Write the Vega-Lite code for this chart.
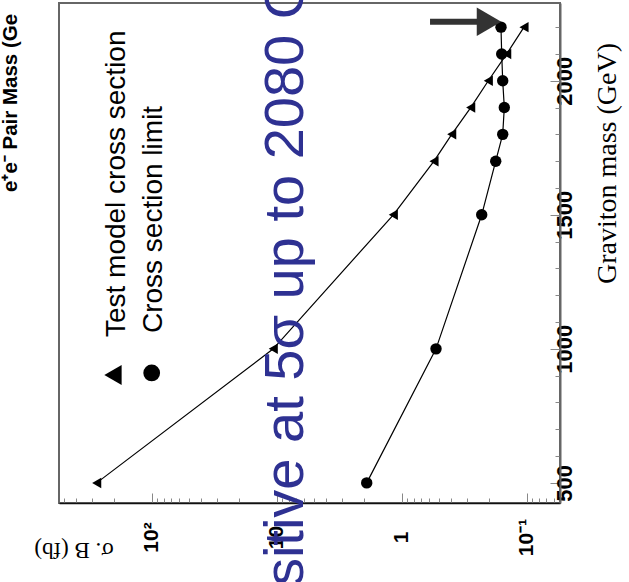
{
  "$schema": "https://vega.github.io/schema/vega-lite/v6.json",
  "width": 501,
  "height": 500,
  "autosize": {"type": "none"},
  "padding": {"left": 59, "top": 3, "right": 69, "bottom": 79},
  "background": "white",
  "config": {"view": {"stroke": "#666", "strokeWidth": 2}},
  "datasets": {
    "curves": [
      {"series": "model", "mass": 500, "sigma": 275.4},
      {"series": "model", "mass": 1000, "sigma": 10.65},
      {"series": "model", "mass": 1500, "sigma": 1.167},
      {"series": "model", "mass": 1700, "sigma": 0.5515},
      {"series": "model", "mass": 1800, "sigma": 0.398},
      {"series": "model", "mass": 1900, "sigma": 0.2806},
      {"series": "model", "mass": 2000, "sigma": 0.2028},
      {"series": "model", "mass": 2100, "sigma": 0.1445},
      {"series": "model", "mass": 2200, "sigma": 0.1051},
      {"series": "limit", "mass": 500, "sigma": 1.905},
      {"series": "limit", "mass": 1000, "sigma": 0.5316},
      {"series": "limit", "mass": 1500, "sigma": 0.2291},
      {"series": "limit", "mass": 1700, "sigma": 0.177},
      {"series": "limit", "mass": 1800, "sigma": 0.1556},
      {"series": "limit", "mass": 1900, "sigma": 0.1511},
      {"series": "limit", "mass": 2000, "sigma": 0.1556},
      {"series": "limit", "mass": 2100, "sigma": 0.1585},
      {"series": "limit", "mass": 2200, "sigma": 0.1606}
    ],
    "legendSymbols": [
      {"series": "model", "sigma": 204, "mass": 902},
      {"series": "limit", "sigma": 100, "mass": 910}
    ],
    "legendText": [
      {"label": "Test model cross section", "sigma": 163.6, "mass": 1044},
      {"label": "Cross section limit", "sigma": 82.7, "mass": 1059}
    ],
    "arrow": [
      {"sigma": 0.5935, "sigma2": 0.2278, "head": 0.2002, "mass": 2220}
    ],
    "cornerText": [
      {"label": "e⁺e⁻ Pair Mass (Ge", "sigma": 1206, "mass": 1585}
    ],
    "banner": [
      {"label": "sitive at 5σ up to 2080 G", "sigma": 6.16, "mass": 115}
    ]
  },
  "encoding": {
    "x": {
      "field": "sigma",
      "type": "quantitative",
      "scale": {"type": "log", "domain": [0.05416, 551.5], "reverse": true, "nice": false, "zero": false},
      "axis": {
        "orient": "bottom",
        "grid": false,
        "title": "σ. B (fb)",
        "titleFont": "Liberation Serif",
        "titleFontSize": 23,
        "titleFontWeight": "normal",
        "titleColor": "#000",
        "titleAngle": 180,
        "titleX": 14.5,
        "titleY": 46,
        "titleAlign": "center",
        "titleBaseline": "middle",
        "values": [0.06, 0.07, 0.08, 0.09, 0.1, 0.2, 0.3, 0.4, 0.5, 0.6, 0.7, 0.8, 0.9, 1, 2, 3, 4, 5, 6, 7, 8, 9, 10, 20, 30, 40, 50, 60, 70, 80, 90, 100, 200, 300, 400, 500],
        "labelExpr": "datum.value == 100 ? '10²' : datum.value == 10 ? '10' : datum.value == 1 ? '1' : datum.value == 0.1 ? '10⁻¹' : ''",
        "labelAngle": 270,
        "labelAlign": "center",
        "labelBaseline": "middle",
        "labelFont": "Liberation Sans",
        "labelFontSize": 21,
        "labelFontWeight": "bold",
        "labelColor": "#000",
        "labelPadding": 44,
        "labelOverlap": false,
        "labelFlush": false,
        "tickSize": {"condition": {"test": "indexof([0.1, 1, 10, 100], datum.value) >= 0", "value": -10}, "value": -5},
        "tickColor": "#888",
        "tickWidth": 1,
        "domainColor": "#111",
        "domainWidth": 1.5
      }
    },
    "y": {
      "field": "mass",
      "type": "quantitative",
      "scale": {"domain": [425, 2290], "nice": false, "zero": false},
      "axis": {
        "orient": "right",
        "grid": false,
        "title": "Graviton mass (GeV)",
        "titleFont": "Liberation Serif",
        "titleFontSize": 28,
        "titleFontWeight": "normal",
        "titleColor": "#000",
        "titleAngle": 270,
        "titleX": 47,
        "titleY": 160,
        "titleAlign": "center",
        "titleBaseline": "middle",
        "values": [500, 600, 700, 800, 900, 1000, 1100, 1200, 1300, 1400, 1500, 1600, 1700, 1800, 1900, 2000, 2100, 2200],
        "labelExpr": "datum.value % 500 == 0 ? format(datum.value, 'd') : ''",
        "labelAngle": 270,
        "labelAlign": "center",
        "labelBaseline": "top",
        "labelFont": "Liberation Sans",
        "labelFontSize": 22,
        "labelFontWeight": "bold",
        "labelColor": "#000",
        "labelPadding": 4,
        "labelOverlap": false,
        "labelFlush": false,
        "tickSize": {"condition": {"test": "datum.value % 500 == 0", "value": -10}, "value": -5},
        "tickColor": "#888",
        "tickWidth": 1,
        "domainColor": "#666",
        "domainWidth": 2
      }
    }
  },
  "layer": [
    {
      "data": {"name": "curves"},
      "mark": {"type": "line", "color": "#000", "strokeWidth": 1.2},
      "encoding": {
        "detail": {"field": "series", "type": "nominal"},
        "order": {"field": "mass", "type": "quantitative"}
      }
    },
    {
      "data": {"name": "curves"},
      "transform": [{"filter": "datum.series == 'model'"}],
      "mark": {"type": "point", "shape": "triangle-left", "filled": true, "color": "#000", "opacity": 1, "size": 110}
    },
    {
      "data": {"name": "curves"},
      "transform": [{"filter": "datum.series == 'limit'"}],
      "mark": {"type": "point", "shape": "circle", "filled": true, "color": "#000", "opacity": 1, "size": 130}
    },
    {
      "data": {"name": "legendSymbols"},
      "transform": [{"filter": "datum.series == 'model'"}],
      "mark": {"type": "point", "shape": "triangle-left", "filled": true, "color": "#000", "opacity": 1, "size": 400}
    },
    {
      "data": {"name": "legendSymbols"},
      "transform": [{"filter": "datum.series == 'limit'"}],
      "mark": {"type": "point", "shape": "circle", "filled": true, "color": "#000", "opacity": 1, "size": 280}
    },
    {
      "data": {"name": "legendText"},
      "mark": {"type": "text", "angle": 270, "align": "left", "baseline": "alphabetic", "font": "Liberation Sans", "fontSize": 28, "color": "#000"},
      "encoding": {"text": {"field": "label"}}
    },
    {
      "data": {"name": "arrow"},
      "mark": {"type": "rule", "color": "#333", "strokeWidth": 6},
      "encoding": {"x2": {"field": "sigma2"}}
    },
    {
      "data": {"name": "arrow"},
      "mark": {"type": "point", "shape": "triangle-right", "filled": true, "color": "#333", "opacity": 1, "size": 800},
      "encoding": {"x": {"field": "head", "type": "quantitative"}}
    },
    {
      "data": {"name": "cornerText"},
      "mark": {"type": "text", "angle": 270, "align": "left", "baseline": "alphabetic", "font": "Liberation Sans", "fontSize": 20.5, "fontWeight": "bold", "color": "#000"},
      "encoding": {"text": {"field": "label"}}
    },
    {
      "data": {"name": "banner"},
      "mark": {"type": "text", "angle": 270, "align": "left", "baseline": "alphabetic", "font": "Liberation Sans", "fontSize": 56, "color": "#2e3192"},
      "encoding": {"text": {"field": "label"}}
    }
  ]
}
